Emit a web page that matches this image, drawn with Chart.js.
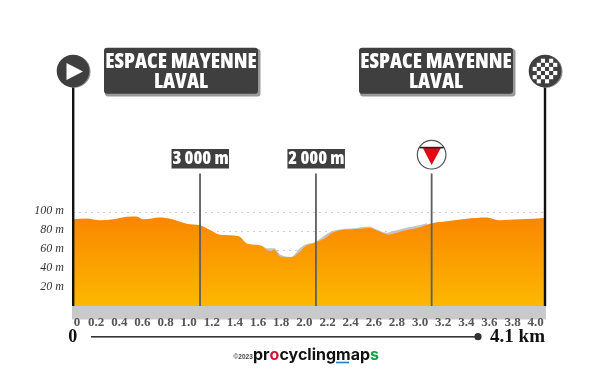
<!DOCTYPE html>
<html><head><meta charset="utf-8">
<style>html,body{margin:0;padding:0;background:#fff}canvas{display:block}</style>
<script src="https://cdn.jsdelivr.net/npm/chart.js@4"></script>
</head><body><div style="width:600px;height:377px"><canvas id="c" width="600" height="377"></canvas></div>
<script>
const distanceKm=[0,0.118,0.233,0.348,0.464,0.55,0.608,0.752,0.838,0.983,1.098,1.184,1.27,1.429,1.5,1.53,1.63,1.674,1.71,1.737,1.79,1.876,1.962,2.0,2.077,2.178,2.25,2.45,2.567,2.637,2.725,2.8,2.884,2.97,3.103,3.23,3.4,3.575,3.69,3.863,4.08];
const elevationM=[93,94,92,93,95.8,96,93,95,93.6,88.4,86.7,81.8,76.9,75.5,67.8,66.7,65.3,60.7,59.5,61,54,53,59,64,67.8,73,79.4,82.8,84,80.8,76.9,79,81.7,83.5,88.8,91,93.6,95,92,93,94.4];
const shadowKm=[1.63,1.68,1.74,1.79,1.89,1.96,2.015,2.1,2.18,2.25,2.45,2.56,2.62,2.71,2.78,2.87,2.96,3.06];
const shadowM=[65.5,62.5,62.5,56,53.7,62.5,66.7,69.5,76.5,81,84,85.5,82.5,79,81,84,86,89];
const tickKm=[0,0.2,0.4,0.6,0.8,1.0,1.2,1.4,1.6,1.8,2.0,2.2,2.4,2.6,2.8,3.0,3.2,3.4,3.6,3.8,4.0];
const tickLabelKm=['0','0.2','0.4','0.6','0.8','1.0','1.2','1.4','1.6','1.8','2.0','2.2','2.4','2.6','2.8','3.0','3.2','3.4','3.6','3.8','4.0'];
const tickM=[20,40,60,80,100];
const sprintKm=[1.098,2.1];
const sprintLabels=['3 000 m','2 000 m'];
const flammeKm=3.1;
const placeNames=[['ESPACE MAYENNE','LAVAL'],['ESPACE MAYENNE','LAVAL']];
const totalLabel='4.1 km';
const startLabel='0';
const MAX_KM=4.08;
const NARROW='"Liberation Sans Narrow"';

function rr(ctx,x,y,w,h,r){ctx.beginPath();ctx.roundRect(x,y,w,h,r);}
function txt(ctx,s,x,y,font,col,align,stretch){ctx.save();ctx.font=font;ctx.fillStyle=col;ctx.textAlign=align||'center';ctx.textBaseline='middle';ctx.fontStretch=stretch||'normal';ctx.fillText(s,x,y);ctx.restore();}

const deco={id:'deco',
 afterDatasetsDraw(ch){
  const c=ch.ctx,X=ch.scales.x;
  const xL=X.getPixelForValue(0),xR=X.getPixelForValue(MAX_KM);
  c.save();
  c.fillStyle='#c9c9c9';c.fillRect(xL-1,306,xR-xL+2,13.5);
  c.fillStyle='#111';c.fillRect(xL-1,85,2.4,221);c.fillRect(xR-1.2,85,2.4,221);
  c.fillStyle='#5e5e5e';
  sprintKm.concat([flammeKm]).forEach(k=>{c.fillRect(X.getPixelForValue(k)-0.9,173.5,1.8,132.5);});
  [[xL,0],[xR,1]].forEach(([x,f])=>{
    c.fillStyle='#888';c.beginPath();c.arc(x+1.2,71.5,16.3,0,7);c.fill();
    c.fillStyle='#3f3f3f';c.beginPath();c.arc(x,71,16.3,0,7);c.fill();
    if(!f){c.fillStyle='#fff';c.beginPath();c.moveTo(x-6.5,63);c.lineTo(x+10,71.5);c.lineTo(x-6.5,80);c.closePath();c.fill();}
    else{c.fillStyle='#fff';const s=4.1;for(let i=-3;i<3;i++)for(let j=-3;j<3;j++){if((i+j+100)%2===0&&!(Math.abs(i+.5)+Math.abs(j+.5)>4))c.fillRect(x+i*s,71+j*s,s,s);}}
  });
  [[104,154],[359,154]].forEach(([bx,bw],i)=>{
    c.fillStyle='#999';rr(c,bx+1,49,bw+1.5,47.5,3);c.fill();
    c.fillStyle='#3f3f3f';rr(c,bx,47.7,bw,46,3);c.fill();
    txt(c,placeNames[i][0],bx+bw/2,62,'800 21px "Open Sans"','#fff','center','condensed');
    txt(c,placeNames[i][1],bx+bw/2,82,'800 21px "Open Sans"','#fff','center','condensed');
  });
  sprintKm.forEach((k,i)=>{
    const x=X.getPixelForValue(k);
    c.fillStyle='#3f3f3f';c.fillRect(x-28.5,149,57.5,19.5);
    txt(c,sprintLabels[i],x+0.5,158.8,'800 18px "Open Sans"','#fff','center','condensed');
  });
  const fx=X.getPixelForValue(flammeKm);
  c.fillStyle='#fff';c.strokeStyle='#555';c.lineWidth=1.2;c.beginPath();c.arc(fx,154.7,14.3,0,7);c.fill();c.stroke();
  c.fillStyle='#e30613';c.beginPath();c.moveTo(fx-9,147.5);c.lineTo(fx+9.5,147.5);c.lineTo(fx,165);c.closePath();c.fill();
  c.fillStyle='#222';c.fillRect(fx-12,146.8,24,1.6);
  c.fillStyle='#333';c.fillRect(91,336,387,1.6);
  c.beginPath();c.arc(478,336.7,3.6,0,7);c.fill();
  txt(c,startLabel,72.8,337,'bold 18px '+NARROW,'#111','center');
  txt(c,totalLabel,545,337,'bold 19px '+NARROW,'#111','right');
  const ly=355.5;let lx=233.5;
  txt(c,'©2023',lx,ly+1.5,'bold 6.5px "Liberation Sans"','#444','left');lx=253;
  [['pr','#111'],['o','#d5122f'],['cycling','#111'],['map','#111'],['s','#17a24a']].forEach(([s,col])=>{
    c.font='bold 16px "Inter"';const w=c.measureText(s).width;
    txt(c,s,lx,ly,'bold 16px "Inter"',col,'left');
    if(s==='map'){c.fillStyle='#1f7fc4';c.fillRect(lx,361.7,13,1.6);}
    lx+=w;
  });
  c.restore();
 }};

new Chart(document.getElementById('c'),{
 type:'line',
 plugins:[deco],
 data:{datasets:[
  {data:distanceKm.map((k,i)=>({x:k,y:elevationM[i]})),order:1,borderWidth:0,pointRadius:0,fill:'origin',cubicInterpolationMode:'monotone',
   backgroundColor(ctx){const a=ctx.chart.chartArea;if(!a)return '#fa0';const g=ctx.chart.ctx.createLinearGradient(0,215,0,306);g.addColorStop(0,'#f98500');g.addColorStop(1,'#fdb800');return g;}},
  {data:shadowKm.map((k,i)=>({x:k,y:shadowM[i]})),order:2,borderWidth:0,pointRadius:0,fill:'origin',cubicInterpolationMode:'monotone',backgroundColor:'#c4c4c4'}
 ]},
 options:{responsive:false,animation:false,
  layout:{padding:{left:0,right:55,top:20,bottom:0}},
  plugins:{legend:{display:false},tooltip:{enabled:false}},
  scales:{
   x:{type:'linear',min:0,max:MAX_KM,
      afterBuildTicks(s){s.ticks=tickKm.map(v=>({value:v===0?0.035:v}));},
      afterFit(s){s.height=377-307.7;},
      grid:{display:false},border:{display:false},
      ticks:{z:1,padding:-1,autoSkip:false,maxRotation:0,color:'#555',font:{family:'Liberation Sans Narrow',size:13,weight:'bold'},callback:(v,i)=>tickLabelKm[i]}},
   y:{min:0,max:302.8,
      afterBuildTicks(s){s.ticks=tickM.map(v=>({value:v}));},
      afterFit(s){s.width=73;},
      grid:{color:'#cfcfcf',drawTicks:false},border:{display:false,dash:[2,4]},
      ticks:{padding:9,labelOffset:-1.5,color:'#333',font:{family:'Liberation Sans Narrow',size:12,weight:'normal',style:'italic'},callback:v=>v+' m'}}
  }}
});
</script></body></html>
